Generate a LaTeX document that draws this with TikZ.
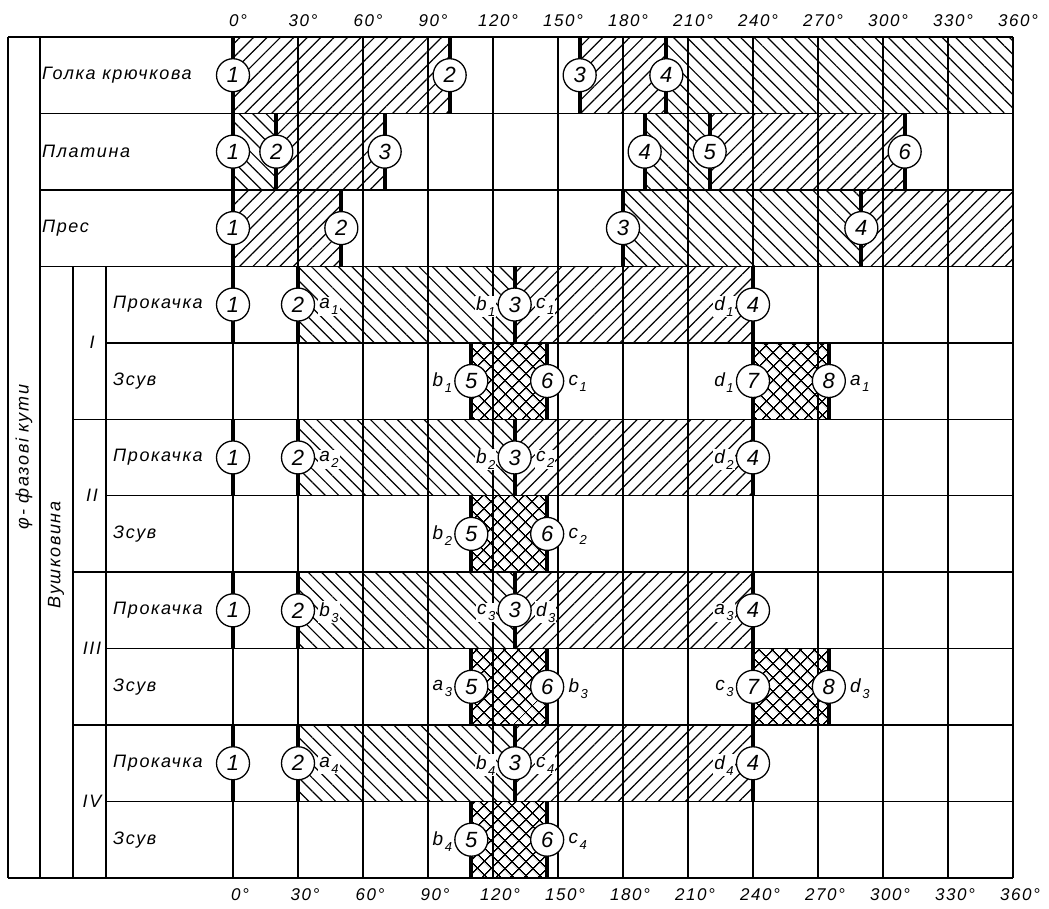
\documentclass[tikz,border=0pt]{standalone}
\usepackage{fontspec}
\setmainfont{Liberation Sans}[LetterSpace=9]
\usetikzlibrary{patterns.meta}
\newcommand\AX[1]{{233+2.166667*(#1)}}
\newcommand\RY[1]{{37+76.45*(#1)}}
\newcommand\CY[1]{{37+76.45*(#1)+38.2}}
\newcommand\fRow{\fontsize{18}{18}\selectfont\itshape}
\newcommand\fAng{\fontsize{17}{17}\selectfont\itshape}
\newcommand\fEv{\fontsize{22}{22}\selectfont\itshape}
\newcommand\fLb{\fontsize{19}{19}\selectfont\itshape}
\newcommand\sbx[2]{#1\kern1.5pt\raisebox{-6pt}{\fontsize{13}{13}\selectfont #2}}
\newcommand\hz[4]{\path[#1] (\AX{#2},\RY{#4}) rectangle (\AX{#3},\RY{#4+1});}
\newcommand\bl[2]{\draw[boldl] (\AX{#1},\RY{#2}) -- (\AX{#1},\RY{#2+1});}
\newcommand\evt[4]{\node[evc] (#1) at (\AX{#2},\CY{#3}) {#4};}
\newcommand\lL[3]{\node[lbl,anchor=east] (#1) at ([xshift=-1pt,yshift=-2pt]#2.west) {#3};}
\newcommand\lR[3]{\node[lbl,anchor=west] (#1) at ([xshift=3pt,yshift=-2pt]#2.east) {#3};}
\tikzset{
  gridl/.style={line width=1.4pt},
  boldl/.style={line width=3.8pt},
  evc/.style={circle,draw,line width=1.3pt,fill=white,minimum size=33pt,inner sep=0pt,font=\fEv},
  lbl/.style={font=\fLb,inner sep=1pt,fill=white},
  rowlbl/.style={font=\fRow,anchor=west,inner sep=0pt},
  ang/.style={font=\fAng,inner sep=0pt},
  hne/.style={pattern={Lines[angle=45,distance=9.5pt,line width=1.2pt]}},
  hnw/.style={pattern={Lines[angle=-45,distance=9.5pt,line width=1.2pt]}},
  hx/.style={pattern={Hatch[angle=45,distance=10.5pt,line width=1.5pt]}},
}
\begin{document}
\begin{tikzpicture}[x=1pt,y=-1pt]
\useasboundingbox (0,0) rectangle (1049,909);
% ---- hatching
\hz{hne}{0}{100}{0} \hz{hne}{160}{200}{0} \hz{hnw}{200}{360}{0}
\hz{hnw}{0}{20}{1} \hz{hne}{20}{70}{1} \hz{hnw}{190}{220}{1} \hz{hne}{220}{310}{1}
\hz{hne}{0}{50}{2} \hz{hnw}{180}{290}{2} \hz{hne}{290}{360}{2}
\foreach \r in {3,5,7,9}{\hz{hnw}{30}{130}{\r} \hz{hne}{130}{240}{\r}}
\foreach \r in {4,6,8,10}{\hz{hx}{110}{145}{\r}}
\hz{hx}{240}{275}{4} \hz{hx}{240}{275}{8}
% ---- frame and grid
\draw[gridl] (8,\RY{0}) -- (\AX{360},\RY{0});
\draw[gridl] (8,\RY{11}) -- (\AX{360},\RY{11});
\draw[gridl] (8,\RY{0}) -- (8,\RY{11});
\draw[gridl] (40,\RY{0}) -- (40,\RY{11});
\draw[gridl] (73,\RY{3}) -- (73,\RY{11});
\draw[gridl] (106,\RY{3}) -- (106,\RY{11});
\foreach \r in {1,2,3}{\draw[gridl] (40,\RY{\r}) -- (\AX{360},\RY{\r});}
\foreach \r in {4,6,8,10}{\draw[gridl] (106,\RY{\r}) -- (\AX{360},\RY{\r});}
\foreach \r in {5,7,9}{\draw[gridl] (73,\RY{\r}) -- (\AX{360},\RY{\r});}
\foreach \a in {0,30,...,360}{\draw[gridl] (\AX{\a},\RY{0}) -- (\AX{\a},\RY{11});}
% ---- bold event lines
\foreach \a in {0,100,160,200}{\bl{\a}{0}}
\foreach \a in {0,20,70,190,220,310}{\bl{\a}{1}}
\foreach \a in {0,50,180,290}{\bl{\a}{2}}
\foreach \r in {3,5,7,9}{\foreach \a in {0,30,130,240}{\bl{\a}{\r}}}
\foreach \r in {4,6,8,10}{\foreach \a in {110,145}{\bl{\a}{\r}}}
\foreach \r in {4,8}{\foreach \a in {240,275}{\bl{\a}{\r}}}
% ---- angle labels
\foreach \a in {0,30,...,360}{
  \node[ang] (t\a) at ({233+2.166667*\a+5},21) {\a°};
  \node[ang] (b\a) at ({233+2.166667*\a+7},895) {\a°};
}
% ---- side texts
\node[font=\fRow,rotate=90] (phi) at (24,457) {φ- фазові кути};
\node[font=\fRow,rotate=90] (vush) at (56,555) {Вушковина};
\node[font=\fRow] (g1) at (92,\RY{4}) {I};
\node[font=\fRow] (g2) at (92,\RY{6}) {II};
\node[font=\fRow] (g3) at (92,\RY{8}) {III};
\node[font=\fRow] (g4) at (92,\RY{10}) {IV};
\node[rowlbl] (n0) at (42,\CY{0}) {Голка крючкова};
\node[rowlbl] (n1) at (42,\CY{1}) {Платина};
\node[rowlbl] (n2) at (42,\CY{2}) {Прес};
\foreach \r in {3,5,7,9}{\node[rowlbl] (n\r) at (113,\CY{\r}) {Прокачка};}
\foreach \r in {4,6,8,10}{\node[rowlbl] (n\r) at (113,\CY{\r}) {Зсув};}
% ---- event circles
\evt{e01}{0}{0}{1} \evt{e02}{100}{0}{2} \evt{e03}{160}{0}{3} \evt{e04}{200}{0}{4}
\evt{e11}{0}{1}{1} \evt{e12}{20}{1}{2} \evt{e13}{70}{1}{3} \evt{e14}{190}{1}{4} \evt{e15}{220}{1}{5} \evt{e16}{310}{1}{6}
\evt{e21}{0}{2}{1} \evt{e22}{50}{2}{2} \evt{e23}{180}{2}{3} \evt{e24}{290}{2}{4}
\foreach \r in {3,5,7,9}{\evt{e\r1}{0}{\r}{1} \evt{e\r2}{30}{\r}{2} \evt{e\r3}{130}{\r}{3} \evt{e\r4}{240}{\r}{4}}
\foreach \r in {4,6,8,10}{\evt{e\r5}{110}{\r}{5} \evt{e\r6}{145}{\r}{6}}
\foreach \r in {4,8}{\evt{e\r7}{240}{\r}{7} \evt{e\r8}{275}{\r}{8}}
% ---- letter labels
\lR{l3a}{e32}{\sbx{a}{1}} \lL{l3b}{e33}{\sbx{b}{1}} \lR{l3c}{e33}{\sbx{c}{1}} \lL{l3d}{e34}{\sbx{d}{1}}
\lL{l4b}{e45}{\sbx{b}{1}} \lR{l4c}{e46}{\sbx{c}{1}} \lL{l4d}{e47}{\sbx{d}{1}} \lR{l4a}{e48}{\sbx{a}{1}}
\lR{l5a}{e52}{\sbx{a}{2}} \lL{l5b}{e53}{\sbx{b}{2}} \lR{l5c}{e53}{\sbx{c}{2}} \lL{l5d}{e54}{\sbx{d}{2}}
\lL{l6b}{e65}{\sbx{b}{2}} \lR{l6c}{e66}{\sbx{c}{2}}
\lR{l7b}{e72}{\sbx{b}{3}} \lL{l7c}{e73}{\sbx{c}{3}} \lR{l7d}{e73}{\sbx{d}{3}} \lL{l7a}{e74}{\sbx{a}{3}}
\lL{l8a}{e85}{\sbx{a}{3}} \lR{l8b}{e86}{\sbx{b}{3}} \lL{l8c}{e87}{\sbx{c}{3}} \lR{l8d}{e88}{\sbx{d}{3}}
\lR{l9a}{e92}{\sbx{a}{4}} \lL{l9b}{e93}{\sbx{b}{4}} \lR{l9c}{e93}{\sbx{c}{4}} \lL{l9d}{e94}{\sbx{d}{4}}
\lL{l10b}{e105}{\sbx{b}{4}} \lR{l10c}{e106}{\sbx{c}{4}}
\end{tikzpicture}
\end{document}
